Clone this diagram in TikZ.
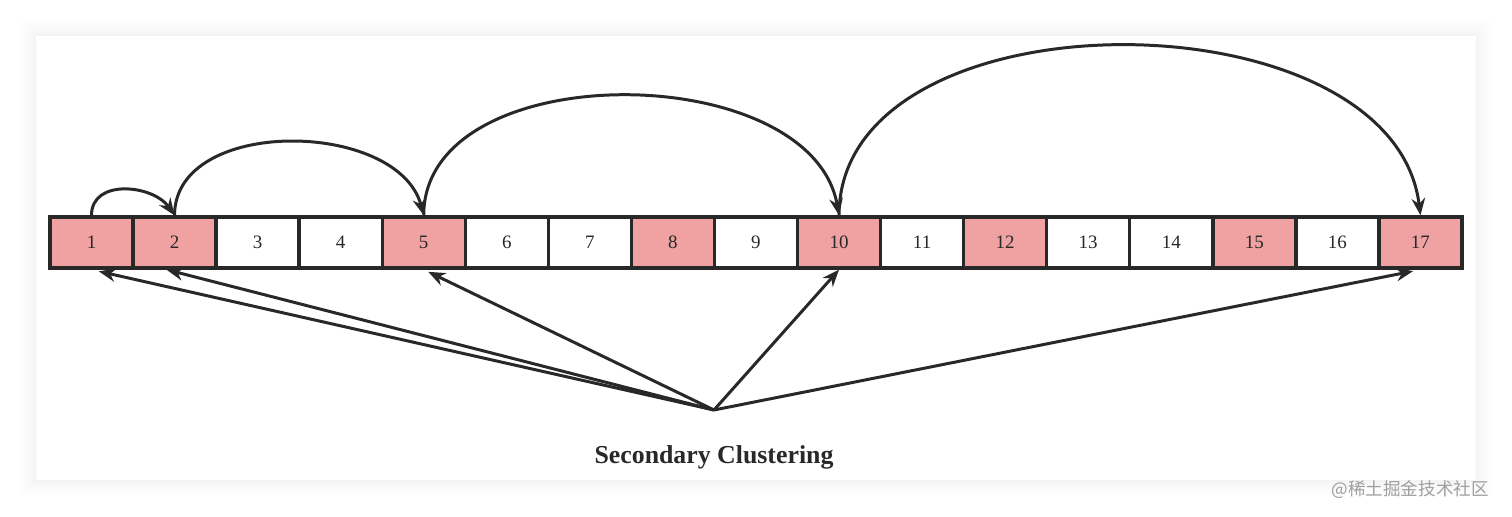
\documentclass[tikz,border=0pt]{standalone}
\usepackage{fontspec}
\setmainfont{Liberation Serif}
\newfontfamily\cjkfont{Noto Sans CJK SC}
\usetikzlibrary{arrows.meta}

\definecolor{hitpink}{RGB}{240,161,161}
\definecolor{inkgray}{RGB}{40,40,40}

\begin{document}
\begin{tikzpicture}[
x=0.02cm, y=-0.02cm,
>={Stealth[length=0.34cm,width=0.27cm]},
every node/.style={font=\fontsize{10.8}{12}\selectfont},
cell/.style={rectangle,draw=inkgray,line width=1.9pt,minimum width=1.66cm,minimum height=1.02cm,inner sep=0pt,text=inkgray},
taken/.style={cell,fill=hitpink},
free/.style={cell,fill=white},
probe/.style={->,draw=inkgray,line width=1.7pt}
]

% Page and card
\useasboundingbox (0,0) rectangle (1512,517);
\fill[white] (0,0) rectangle (1512,517);
\foreach \d in {16,12,8,5,3,1}
  \fill[black,opacity=0.008] (36-\d,36-\d) rectangle (1476+\d,480+\d);
\fill[white] (36,36) rectangle (1476,480);

% Slots
\foreach \i/\s in {1/taken,2/taken,3/free,4/free,5/taken,6/free,7/free,8/taken,9/free,
                   10/taken,11/free,12/taken,13/free,14/free,15/taken,16/free,17/taken}
  \node[\s] (c\i) at ({91.5+83.06*(\i-1)},242.5) {\i};

% Probe sequence above
\draw[probe] (c1.north) to[out=90,in=125,looseness=1.15] (c2.north);
\draw[probe] (c2.north) to[out=90,in=105,looseness=1.02] (c5.north);
\draw[probe] (c5.north) to[out=90,in=100,looseness=0.99] (c10.north);
\draw[probe] (c10.north) to[out=90,in=97,looseness=1.0] (c17.north);

% Same hash, same sequence
\coordinate (src) at (714,410);
\draw[probe,shorten >=0.15cm] (src) -- (c1.south);
\draw[probe] (src) -- ([xshift=-0.16cm]c2.south);
\draw[probe,shorten >=0.1cm] (src) -- (c5.south);
\draw[probe] (src) -- (c10.south);
\draw[probe,shorten >=0.15cm] (src) -- (c17.south);

% Caption
\node[font=\bfseries\fontsize{14.7}{17}\selectfont,text=inkgray] (caption) at (714,457) {Secondary Clustering};

% Watermark
\node[font=\cjkfont\fontsize{10}{12}\selectfont,text=gray!75,anchor=east] (mark) at (1495,490) {@稀土掘金技术社区};

\end{tikzpicture}
\end{document}
